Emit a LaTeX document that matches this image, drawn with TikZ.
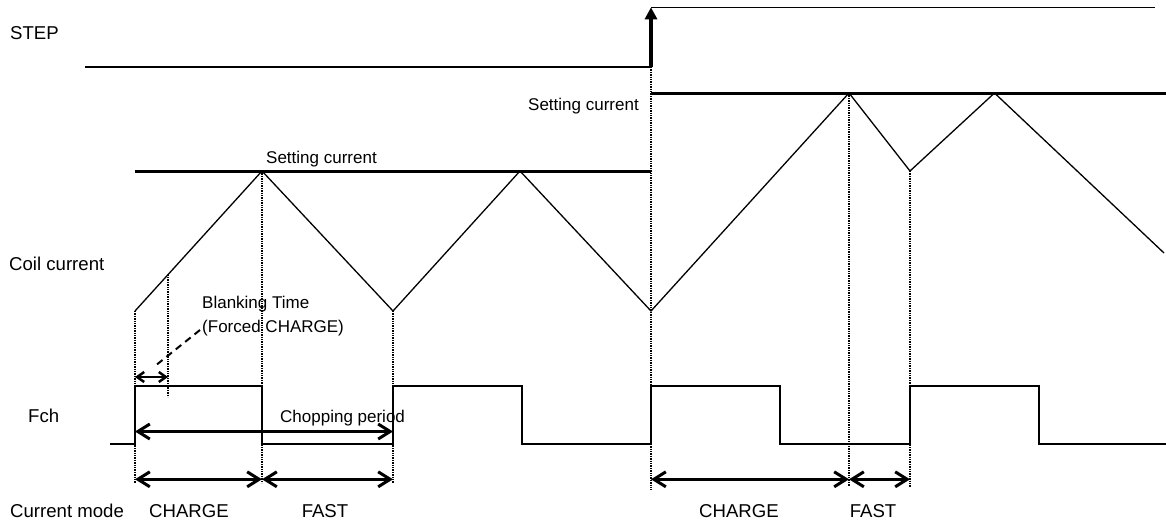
\documentclass[tikz,border=0pt]{standalone}
\usepackage{fontspec}
\setmainfont{Liberation Sans}
\usetikzlibrary{arrows.meta}
\begin{document}
\begin{tikzpicture}[x=1pt,y=-1pt,
  lbl/.style={font=\fontsize{17}{20}\selectfont, inner sep=0pt, anchor=base west},
  biglbl/.style={font=\fontsize{18.6}{22}\selectfont, inner sep=0pt, anchor=base west},
  wire/.style={line width=1.3pt},
  level/.style={line width=3pt},
  guide/.style={line width=2pt, dash pattern=on 1.4pt off 1pt},
  dimarrow/.style={line width=3pt, {Straight Barb[length=12pt,width=15pt]}-{Straight Barb[length=12pt,width=15pt]}},
  smallarrow/.style={line width=2.5pt, {Straight Barb[length=7pt,width=10pt]}-{Straight Barb[length=7pt,width=10pt]}},
  steparrow/.style={line width=3.2pt, -{Triangle[length=12pt,width=12pt]}},
  leader/.style={line width=2pt, dash pattern=on 7pt off 5pt},
]
\useasboundingbox (0,0) rectangle (1166,525);

% ---------- labels ----------
\node[biglbl] (tstep) at (10,39) {STEP};
\node[biglbl] (tcoil) at (9,270) {Coil current};
\node[biglbl] (tfch) at (28,422) {Fch};
\node[biglbl] (tmode) at (10,517) {Current mode};
\node[lbl] (tset1) at (266,163) {Setting current};
\node[lbl] (tset2) at (528,110.5) {Setting current};
\node[lbl] (tblank1) at (202,308) {Blanking Time};
\node[lbl] (tblank2) at (202,332) {(Forced CHARGE)};
\node[lbl] (tchop) at (280,422) {Chopping period};
\node[biglbl, anchor=base] (tch1) at (189,517) {CHARGE};
\node[biglbl, anchor=base] (tfa1) at (325,517) {FAST};
\node[biglbl, anchor=base] (tch2) at (739,517) {CHARGE};
\node[biglbl, anchor=base] (tfa2) at (873,517) {FAST};

% ---------- STEP signal ----------
\coordinate (s0) at (85,67);
\coordinate (s1) at (651,67);
\coordinate (s2) at (651,7.3);
\coordinate (s3) at (1155,7.3);
\draw[wire] (s0) -- (s1);
\draw[steparrow] (s1) -- (s2);
\draw[wire] (s2) -- (s3);

% ---------- setting current levels ----------
\coordinate (l1a) at (135,171);
\coordinate (l1b) at (651,171);
\coordinate (l2a) at (651,93);
\coordinate (l2b) at (1166,93);
\draw[level] (l1a) -- (l1b);
\draw[level] (l2a) -- (l2b);

% ---------- coil current ----------
\coordinate (c0) at (135,311);
\coordinate (cb) at (168,274.6);
\coordinate (p1) at (262,171);
\coordinate (v1) at (393,311);
\coordinate (p2) at (520,171);
\coordinate (v2) at (651,311);
\coordinate (p3) at (849,93);
\coordinate (v3) at (910,171);
\coordinate (p4) at (994.5,93);
\coordinate (ce) at (1164,253);
\draw[wire] (c0) -- (p1) -- (v1) -- (p2) -- (v2) -- (p3) -- (v3) -- (p4) -- (ce);

% ---------- Fch ----------
\draw[wire] (110,444) -- (135,444) -- (135,386) -- (262,386) -- (262,444)
  -- (393,444) -- (393,386) -- (522,386) -- (522,444) -- (651,444)
  -- (651,386) -- (780,386) -- (780,444) -- (910,444) -- (910,386)
  -- (1039,386) -- (1039,444) -- (1166,444);

% ---------- guides ----------
\coordinate (g0) at (135,483);
\coordinate (gb) at (168,397);
\coordinate (g1) at (262,483);
\coordinate (g2) at (393,483);
\coordinate (g3) at (651,490);
\coordinate (g4) at (849,486);
\coordinate (g5) at (910,487);
\draw[guide] (c0) -- (g0);
\draw[guide] (cb) -- (gb);
\draw[guide] (p1) -- (g1);
\draw[guide] (v1) -- (g2);
\draw[guide] (s1) -- (g3);
\draw[guide] (p3) -- (g4);
\draw[guide] (v3) -- (g5);

% ---------- dimension arrows ----------
\coordinate (ba) at (135,377);
\coordinate (bb) at (168,377);
\draw[smallarrow] (ba) -- (bb);
\coordinate (lda) at (200,330);
\coordinate (ldb) at (155,366);
\draw[leader] (lda) -- (ldb);

\coordinate (cha) at (135,431.5);
\coordinate (chb) at (393,431.5);
\draw[dimarrow] (cha) -- (chb);

\coordinate (m0) at (135,479.3);
\coordinate (m1) at (262,479.3);
\coordinate (m2) at (393,479.3);
\coordinate (m3) at (651,479.3);
\coordinate (m4) at (849,479.3);
\coordinate (m5) at (910,479.3);
\draw[dimarrow] (m0) -- (m1);
\draw[dimarrow] (m1) -- (m2);
\draw[dimarrow] (m3) -- (m4);
\draw[dimarrow] (m4) -- (m5);
\end{tikzpicture}
\end{document}
